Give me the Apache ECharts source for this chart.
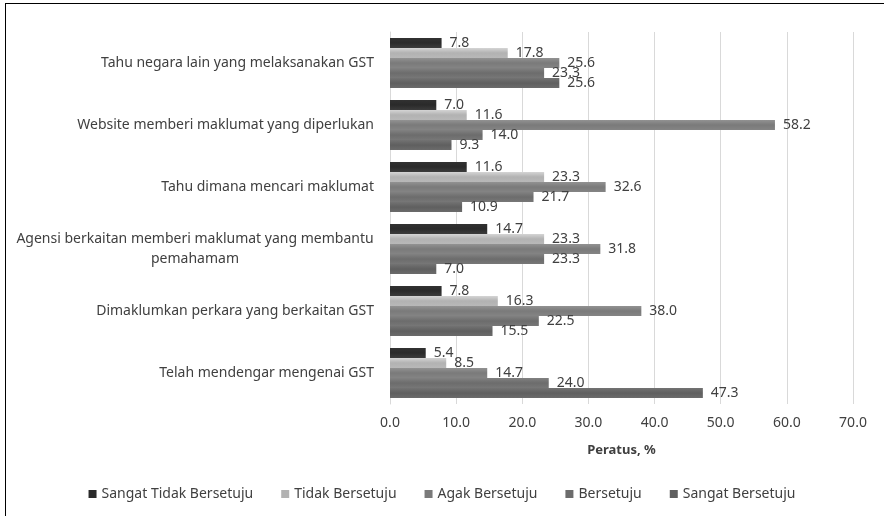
<!DOCTYPE html>
<html>
<head>
<meta charset="utf-8">
<script src="https://cdn.jsdelivr.net/npm/echarts@6/dist/echarts.min.js"></script>
<style>
  html, body { margin: 0; padding: 0; background: #fff; overflow: hidden; }
  #frame { position: absolute; left: 5px; top: 3px; width: 890px; height: 530px; border: 1px solid #000; }
  #chart { position: absolute; left: 0; top: 0; width: 884px; height: 516px; }
</style>
</head>
<body>
<div id="frame"></div>
<div id="chart"></div>
<script>
// kategori (atas ke bawah)
var categories = [
  'Tahu negara lain yang melaksanakan GST',
  'Website memberi maklumat yang diperlukan',
  'Tahu dimana mencari maklumat',
  'Agensi berkaitan memberi maklumat yang membantu\npemahamam',
  'Dimaklumkan perkara yang berkaitan GST',
  'Telah mendengar mengenai GST'
];
var seriesNames = ['Sangat Tidak Bersetuju', 'Tidak Bersetuju', 'Agak Bersetuju', 'Bersetuju', 'Sangat Bersetuju'];
var sangatTidak = [7.8, 7.0, 11.6, 14.7, 7.8, 5.4];
var tidak = [17.8, 11.6, 23.3, 23.3, 16.3, 8.5];
var agak = [25.6, 58.2, 32.6, 31.8, 38.0, 14.7];
var setuju = [23.3, 14.0, 21.7, 23.3, 22.5, 24.0];
var sangatSetuju = [25.6, 9.3, 10.9, 7.0, 15.5, 47.3];
var xTicks = [0, 10, 20, 30, 40, 50, 60, 70];

var colors = ['#2a2a2a', '#b2b2b2', '#7a7a7a', '#6c6c6c', '#5f5f5f'];
var allData = [sangatTidak, tidak, agak, setuju, sangatSetuju];
var FONT = 'Noto Sans';

var chart = echarts.init(document.getElementById('chart'));

function grad(c) {
  return new echarts.graphic.LinearGradient(0, 0, 0, 1, [
    { offset: 0, color: echarts.color.lift(c, -0.2) },
    { offset: 0.5, color: c },
    { offset: 1, color: echarts.color.lift(c, 0.08) }
  ]);
}

// lebar baris terpanjang, supaya baris kedua boleh diletak di tengah
var ctx = document.createElement('canvas').getContext('2d');
ctx.font = '14px "' + FONT + '"';
var longW = 0;
categories.forEach(function (c) {
  c.split('\n').forEach(function (s) { if (c.indexOf('\n') >= 0) longW = Math.max(longW, ctx.measureText(s).width); });
});

var series = allData.map(function (d, i) {
  return {
    name: seriesNames[i],
    type: 'bar',
    data: d,
    barGap: '0%',
    barCategoryGap: '19%',
    itemStyle: { color: grad(colors[i]) },
    label: {
      show: true,
      position: 'right',
      distance: 8,
      color: '#404040',
      fontSize: 14,
      fontFamily: FONT,
      formatter: function (p) { return p.value.toFixed(1); }
    }
  };
});

chart.setOption({
  animation: false,
  color: colors,
  textStyle: { fontFamily: FONT },
  grid: { left: 390, right: 31, top: 32, bottom: 112 },
  legend: {
    bottom: 10,
    left: 'center',
    itemWidth: 8,
    itemHeight: 8,
    itemGap: 28,
    icon: 'rect',
    textStyle: { color: '#404040', fontSize: 14, fontFamily: FONT },
    data: seriesNames.map(function (n, i) { return { name: n, itemStyle: { color: colors[i] } }; })
  },
  xAxis: {
    type: 'value',
    min: xTicks[0],
    max: xTicks[xTicks.length - 1],
    interval: 10,
    name: 'Peratus, %',
    nameLocation: 'middle',
    nameGap: 40,
    nameTextStyle: { color: '#404040', fontSize: 13, fontWeight: 'bold', fontFamily: FONT },
    axisLine: { show: false },
    axisTick: { show: false },
    axisLabel: { color: '#404040', fontSize: 14, margin: 12, formatter: function (v) { return v.toFixed(1); } },
    splitLine: { show: true, lineStyle: { color: '#d9d9d9' } }
  },
  yAxis: {
    type: 'category',
    inverse: true,
    data: categories,
    axisLine: { show: true, lineStyle: { color: '#d9d9d9' } },
    axisTick: { show: false },
    axisLabel: {
      color: '#404040',
      fontSize: 14,
      margin: 16,
      lineHeight: 20,
      formatter: function (v) {
        if (v.indexOf('\n') >= 0) {
          return v.split('\n').map(function (s) { return '{c|' + s + '}'; }).join('\n');
        }
        return v;
      },
      rich: { c: { width: Math.ceil(longW), align: 'center', color: '#404040', fontSize: 14, lineHeight: 20 } }
    }
  },
  series: series
});
</script>
</body>
</html>
